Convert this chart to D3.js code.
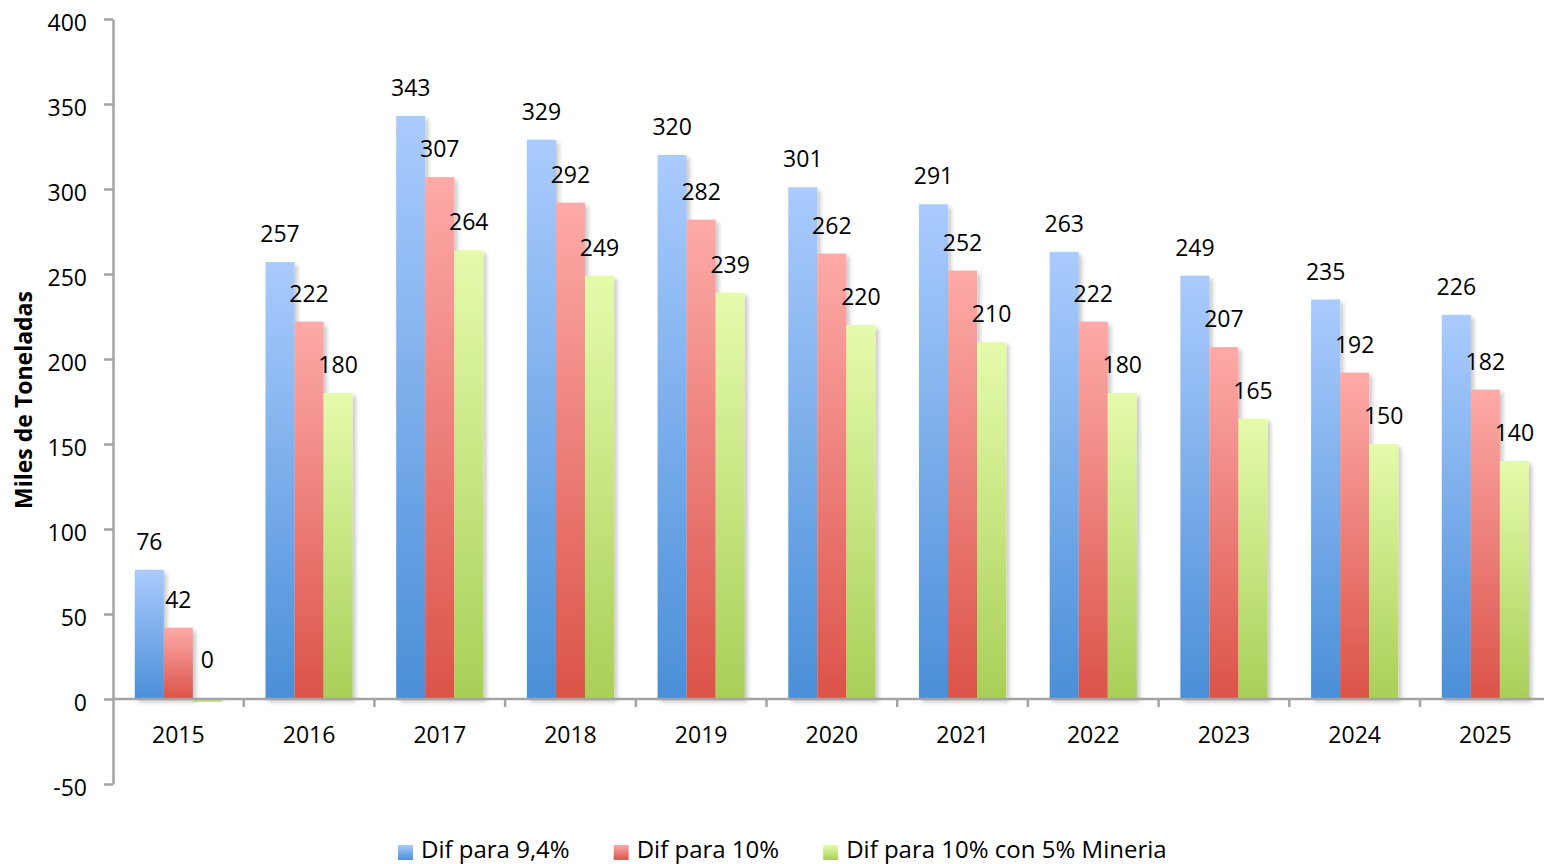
<!DOCTYPE html>
<html>
<head>
<meta charset="utf-8">
<script src="https://cdn.jsdelivr.net/npm/d3@7"></script>
<style>
  body { margin: 0; background: #fff; }
  text { font-family: "Open Sans", "Noto Sans", sans-serif; fill: #000; }
</style>
</head>
<body>
<div id="chart"></div>
<script>
// Chart data
var years = ["2015", "2016", "2017", "2018", "2019", "2020", "2021", "2022", "2023", "2024", "2025"];
var seriesNames = ["Dif para 9,4%", "Dif para 10%", "Dif para 10% con 5% Mineria"];
var dif94 = [76, 257, 343, 329, 320, 301, 291, 263, 249, 235, 226];
var dif10 = [42, 222, 307, 292, 282, 262, 252, 222, 207, 192, 182];
var dif10Mineria = [-1.6, 180, 264, 249, 239, 220, 210, 180, 165, 150, 140];
var yTicks = [-50, 0, 50, 100, 150, 200, 250, 300, 350, 400];

var svgWidth = 1544;
var svgHeight = 864;

var margin = { top: 19, left: 113 };
var bandWidth = 130.7;

var svg = d3.select("#chart")
  .append("svg")
  .attr("width", svgWidth)
  .attr("height", svgHeight);

// gradients + shadow
var defs = svg.append("defs");
var gradColors = [
  ["#aacbfd", "#4a8fd8"],
  ["#fdaaa8", "#db5349"],
  ["#e5fbab", "#a9cf58"]
];
gradColors.forEach(function(c, i) {
  var g = defs.append("linearGradient")
    .attr("id", "grad" + i)
    .attr("x1", 0).attr("y1", 0).attr("x2", 0).attr("y2", 1);
  g.append("stop").attr("offset", "0%").attr("stop-color", c[0]);
  g.append("stop").attr("offset", "100%").attr("stop-color", c[1]);
});
var shadow = defs.append("filter").attr("id", "shadow")
  .attr("x", "-20%").attr("y", "-5%").attr("width", "150%").attr("height", "115%");
shadow.append("feDropShadow")
  .attr("dx", 3).attr("dy", 3).attr("stdDeviation", 2)
  .attr("flood-color", "#000").attr("flood-opacity", 0.22);

// scales
var yScale = d3.scaleLinear()
  .domain([-50, 400])
  .range([784, margin.top]);

var xScale = d3.scaleBand()
  .domain(years)
  .range([margin.left, margin.left + bandWidth * years.length])
  .padding(0);

var xInner = d3.scaleBand()
  .domain([0, 1, 2])
  .range([0, xScale.bandwidth()])
  .paddingInner(0)
  .paddingOuter(0.75);

var allSeries = [dif94, dif10, dif10Mineria];
var rows = years.map(function(yr, i) {
  return { year: yr, values: allSeries.map(function(s, k) { return { k: k, v: s[i] }; }) };
});

// bars
var groups = svg.append("g").selectAll("g")
  .data(rows)
  .enter()
  .append("g")
  .attr("transform", d => `translate(${xScale(d.year)},0)`);

groups.selectAll("rect")
  .data(d => d.values)
  .enter()
  .append("rect")
  .attr("x", d => xInner(d.k))
  .attr("width", xInner.bandwidth())
  .attr("y", d => yScale(Math.max(0, d.v)))
  .attr("height", d => Math.abs(yScale(d.v) - yScale(0)))
  .attr("fill", d => "url(#grad" + d.k + ")")
  .attr("filter", "url(#shadow)");

// value labels
groups.selectAll("text")
  .data(d => d.values)
  .enter()
  .append("text")
  .attr("x", d => xInner(d.k) + xInner.bandwidth() / 2)
  .attr("y", d => d.v < 0 ? yScale(0) - 31 : yScale(d.v) - 20)
  .attr("text-anchor", "middle")
  .style("font-size", "23px")
  .text(d => String(Math.max(0, Math.round(d.v))));

// y axis
var leftAxis = d3.axisLeft(yScale)
  .tickValues(yTicks)
  .tickFormat(d => String(d))
  .tickSize(9)
  .tickSizeOuter(0)
  .tickPadding(17);

var yAxisG = svg.append("g")
  .attr("transform", `translate(${margin.left},0)`)
  .call(leftAxis);
yAxisG.select(".domain").attr("stroke", "#a3a3a3").attr("stroke-width", 2.5);
yAxisG.selectAll(".tick line").attr("stroke", "#a3a3a3").attr("stroke-width", 2.5);
yAxisG.selectAll(".tick text")
  .attr("dy", "0.5em")
  .style("font-size", "23px")
  .style("font-family", "'Open Sans', sans-serif")
  .attr("fill", "#000");

// x axis at zero
var bottomAxis = d3.axisBottom(xScale)
  .tickSize(0)
  .tickPadding(28);

var xAxisG = svg.append("g")
  .attr("transform", `translate(0,${yScale(0)})`)
  .call(bottomAxis);
xAxisG.select(".domain").remove();
xAxisG.selectAll(".tick text")
  .style("font-size", "23px")
  .style("font-family", "'Open Sans', sans-serif")
  .attr("fill", "#000");

xAxisG.append("line")
  .attr("x1", margin.left)
  .attr("x2", svgWidth)
  .attr("stroke", "#a3a3a3")
  .attr("stroke-width", 2.5);

xAxisG.selectAll(".sep")
  .data(years.slice(1))
  .enter()
  .append("line")
  .attr("class", "sep")
  .attr("x1", d => xScale(d))
  .attr("x2", d => xScale(d))
  .attr("y1", 0)
  .attr("y2", 8)
  .attr("stroke", "#a3a3a3")
  .attr("stroke-width", 2.5);

// axis title
svg.append("text")
  .attr("transform", "translate(32, 400) rotate(-90)")
  .attr("text-anchor", "middle")
  .style("font-size", "23px")
  .style("font-weight", "bold")
  .text("Miles de Toneladas");

// legend
var legend = svg.append("g").attr("transform", "translate(398, 858)");
var lx = 0;
seriesNames.forEach(function(name, i) {
  var item = legend.append("g").attr("transform", `translate(${lx},0)`);
  item.append("rect")
    .attr("x", 0)
    .attr("y", -13)
    .attr("width", 15)
    .attr("height", 15)
    .attr("fill", "url(#grad" + i + ")");
  var t = item.append("text")
    .attr("x", 23)
    .attr("y", 0)
    .style("font-size", "24px")
    .text(name);
  lx += 23 + t.node().getComputedTextLength() + 44;
});
</script>
</body>
</html>
